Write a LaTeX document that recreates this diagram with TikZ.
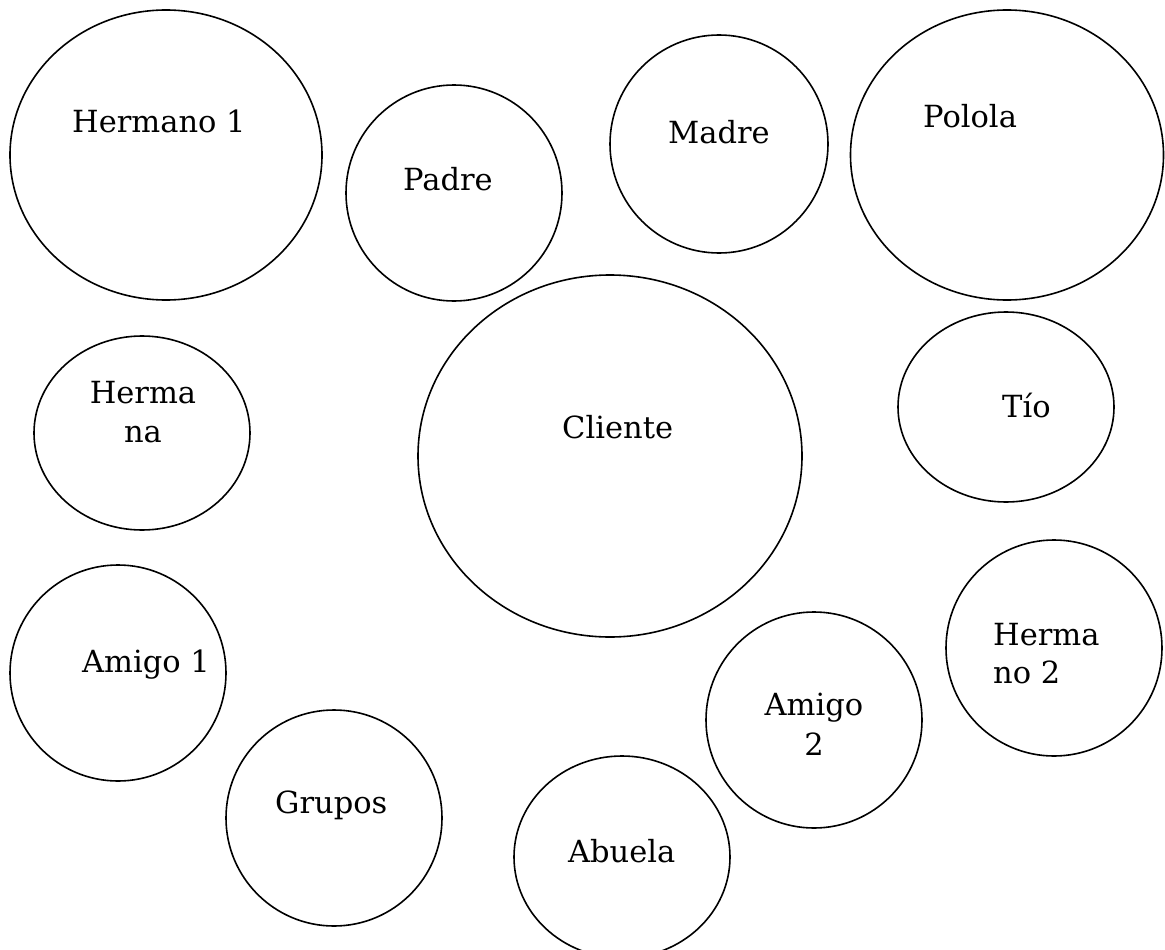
\documentclass[tikz,border=0pt]{standalone}
\usepackage{fontspec}
\setmainfont{DejaVu Serif}
\usetikzlibrary{shapes.geometric}
\begin{document}
\begin{tikzpicture}[x=1pt,y=-1pt,
  circ/.style={draw, line width=1.6pt, ellipse, inner sep=0pt},
  lbl/.style={font=\fontsize{30.5}{39}\selectfont, inner sep=0pt}]
\useasboundingbox (0,0) rectangle (1165,950);
\newcommand{\myoval}[5]{\node[circ, minimum width=#4pt, minimum height=#5pt] (#1) at (#2,#3) {};}
\myoval{hermanoA}{166}{155}{312}{290}
\myoval{padre}{454}{193}{216}{216}
\myoval{madre}{719}{144}{218}{218}
\myoval{polola}{1007}{155}{313}{290}
\myoval{hermana}{142}{433}{216}{194}
\myoval{cliente}{610}{456}{384}{362}
\myoval{tio}{1006}{407}{216}{190}
\myoval{hermanoB}{1054}{648}{216}{216}
\myoval{amigoA}{118}{673}{216}{216}
\myoval{amigoB}{814}{720}{216}{216}
\myoval{grupos}{334}{818}{216}{216}
\myoval{abuela}{622}{857}{216}{202}
\node[lbl, anchor=base west] (thermanoA) at (72,132) {Hermano 1};
\node[lbl, anchor=base west] (tpadre) at (403,190) {Padre};
\node[lbl, anchor=base west] (tmadre) at (668,143) {Madre};
\node[lbl, anchor=base west] (tpolola) at (923,128) {Polola};
\node[lbl, anchor=base west] (tcliente) at (562,438) {Cliente};
\node[lbl, anchor=base west] (ttio) at (1002,417) {Tío};
\node[lbl, anchor=base west] (tamigoA) at (82,672) {Amigo 1};
\node[lbl, anchor=base west] (tgrupos) at (275,813) {Grupos};
\node[lbl, anchor=base west] (tabuela) at (568,862) {Abuela};
\node[lbl, anchor=base] (thermana1) at (143,403) {Herma};
\node[lbl, anchor=base] (thermana2) at (143,442) {na};
\node[lbl, anchor=base west] (thermanoB1) at (993,645) {Herma};
\node[lbl, anchor=base west] (thermanoB2) at (993,683) {no 2};
\node[lbl, anchor=base] (tamigoB1) at (814,715) {Amigo};
\node[lbl, anchor=base] (tamigoB2) at (814,755) {2};
\end{tikzpicture}
\end{document}
